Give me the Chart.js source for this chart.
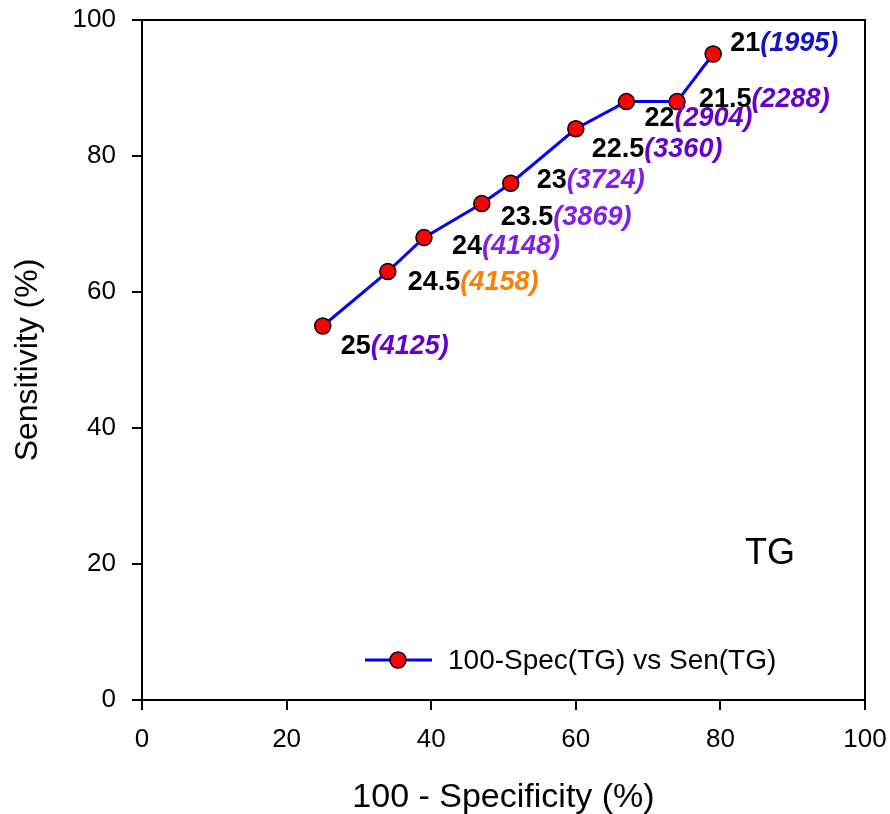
<!DOCTYPE html>
<html>
<head>
<meta charset="utf-8">
<script src="https://cdn.jsdelivr.net/npm/chart.js@4/dist/chart.umd.min.js"></script>
<style>
  body { margin: 0; background: #fff; }
  canvas { display: block; }
</style>
</head>
<body>
<canvas id="roc-chart" width="890" height="814"></canvas>
<script>
// values
const specValues = [25, 34, 39, 47, 51, 60, 67, 74, 79];   // 100 - specificity (%)
const senValues = [55, 63, 68, 73, 76, 84, 88, 88, 95];    // sensitivity (%)
const cutoffLabels = ['25', '24.5', '24', '23.5', '23', '22.5', '22', '21.5', '21'];
const countLabels = ['4125', '4158', '4148', '3869', '3724', '3360', '2904', '2288', '1995'];
const countColors = ['#6600cc', '#ff8000', '#8020e6', '#8020e6', '#8020e6', '#6600cc', '#6600cc', '#6600cc', '#1414c0'];
const xTicks = [0, 20, 40, 60, 80, 100];
const yTicks = [0, 20, 40, 60, 80, 100];

// where each label sits relative to its point (text left, text middle)
const labelOffsets = [[18, 21], [20, 11], [28, 9], [19, 14], [26, -3], [16, 21], [18, 17], [22, -2], [17, -10]];

const FONT = '"Liberation Sans", Arial, sans-serif';

const labelPlugin = {
    id: 'pointLabels',
    afterDatasetsDraw(chart) {
        const ctx = chart.ctx;
        const pts = chart.getDatasetMeta(0).data;
        ctx.save();
        ctx.textBaseline = 'middle';
        ctx.textAlign = 'left';
        pts.forEach((p, i) => {
            const x = p.x + labelOffsets[i][0];
            const y = p.y + labelOffsets[i][1];
            ctx.font = 'bold 27px ' + FONT;
            ctx.fillStyle = '#000';
            ctx.fillText(cutoffLabels[i], x, y);
            const w = ctx.measureText(cutoffLabels[i]).width;
            ctx.font = 'italic bold 27px ' + FONT;
            ctx.fillStyle = countColors[i];
            ctx.fillText('(' + countLabels[i] + ')', x + w, y);
        });
        ctx.restore();
    },
    afterDraw(chart) {
        const ctx = chart.ctx;
        const a = chart.chartArea;
        ctx.save();
        // top and right frame
        ctx.strokeStyle = '#000';
        ctx.lineWidth = 2;
        ctx.beginPath();
        ctx.moveTo(a.left, a.top);
        ctx.lineTo(a.right, a.top);
        ctx.lineTo(a.right, a.bottom);
        ctx.stroke();

        // legend
        const ly = 660;
        ctx.strokeStyle = '#0000ff';
        ctx.lineWidth = 3;
        ctx.beginPath();
        ctx.moveTo(365, ly);
        ctx.lineTo(432, ly);
        ctx.stroke();
        ctx.beginPath();
        ctx.arc(398, ly, 8, 0, Math.PI * 2);
        ctx.fillStyle = '#ff0000';
        ctx.fill();
        ctx.lineWidth = 1.5;
        ctx.strokeStyle = '#000';
        ctx.stroke();
        ctx.font = '28px ' + FONT;
        ctx.fillStyle = '#000';
        ctx.textBaseline = 'middle';
        ctx.fillText(chart.data.datasets[0].label, 448, ly + 1);

        // panel tag
        ctx.font = '36px ' + FONT;
        ctx.fillText('TG', 745, 554);
        ctx.restore();
    }
};

const ctx = document.getElementById('roc-chart').getContext('2d');
new Chart(ctx, {
    type: 'line',
    data: {
        datasets: [{
            label: '100-Spec(TG) vs Sen(TG)',
            data: specValues.map((x, i) => ({ x: x, y: senValues[i] })),
            borderColor: '#0000ff',
            borderWidth: 3,
            backgroundColor: '#ff0000',
            pointBackgroundColor: '#ff0000',
            pointBorderColor: '#000',
            pointBorderWidth: 1.5,
            pointRadius: 8,
            tension: 0
        }]
    },
    options: {
        responsive: false,
        animation: false,
        layout: { padding: { top: 20, right: 25, left: 0, bottom: 0 } },
        plugins: {
            legend: { display: false },
            tooltip: { enabled: false }
        },
        scales: {
            x: {
                type: 'linear',
                min: 0,
                max: 100,
                afterBuildTicks: (axis) => { axis.ticks = xTicks.map(v => ({ value: v })); },
                afterFit: (axis) => {
                    axis.height = 114;
                    axis.paddingLeft = 0;
                    axis.paddingRight = 0;
                },
                ticks: { color: '#000', font: { family: FONT, size: 26 }, padding: 14 },
                grid: { drawOnChartArea: false, drawTicks: true, tickLength: 10, color: '#000', lineWidth: 2 },
                border: { color: '#000', width: 2 },
                title: { display: true, text: '100 - Specificity (%)', color: '#000', font: { family: FONT, size: 34, lineHeight: 0.94 }, padding: 0 }
            },
            y: {
                min: 0,
                max: 100,
                afterBuildTicks: (axis) => { axis.ticks = yTicks.map(v => ({ value: v })); },
                afterFit: (axis) => {
                    axis.width = 142;
                    axis.paddingTop = 0;
                    axis.paddingBottom = 0;
                },
                ticks: { color: '#000', font: { family: FONT, size: 26 }, padding: 16 },
                grid: { drawOnChartArea: false, drawTicks: true, tickLength: 10, color: '#000', lineWidth: 2 },
                border: { color: '#000', width: 2 },
                title: { display: true, text: 'Sensitivity (%)', color: '#000', font: { family: FONT, size: 32, lineHeight: 1 }, padding: 12 }
            }
        }
    },
    plugins: [labelPlugin]
});
</script>
</body>
</html>
